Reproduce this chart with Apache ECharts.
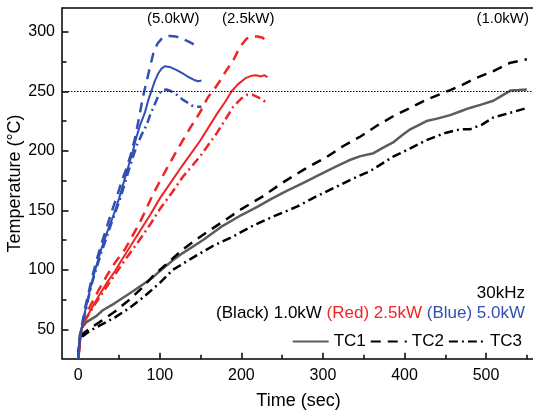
<!DOCTYPE html>
<html><head><meta charset="utf-8">
<script src="https://cdn.jsdelivr.net/npm/echarts@6/dist/echarts.min.js"></script>
<style>html,body{margin:0;padding:0;background:#fff}#c{width:533px;height:413px}</style>
</head><body><div id="c"></div>
<script>
// ---- data (time sec, temperature °C) ----
const k1_tc1 = [[0,25],[2,45],[4,51],[10,56],[22,61],[30,66],[45,72],[67,82],[80,88],[92,94],[100,99],[116,108],[128,114],[153,125],[175,136],[200,146],[220,153],[235,159],[255,166],[276,173],[296,180],[317,187],[332,192],[346,195.5],[362,198],[375,203],[386,207],[397,213],[407,218],[427,225],[440,227],[456,230],[468,233],[480,236],[495,239],[509,242],[521,247],[530,250.6],[540,251],[550,251.5]];
const k1_tc2 = [[0,30],[2,42],[5,46],[15,51],[26,56],[45,65],[63,75],[80,86],[92,95],[110,106],[128,117],[150,128],[174,139],[200,151],[227,162],[250,173],[276,184],[305,195],[325,204],[346,212],[366,221],[386,229],[407,236],[427,243],[445,248],[456,251],[470,255],[484,260],[509,267],[530,274],[550,277]];
const k1_tc3 = [[0,28],[2,40],[5,44],[15,49],[26,53],[45,60],[63,68],[80,77],[100,89],[116,100],[140,110],[165,120],[190,128],[214,137],[240,145],[268,153],[290,161],[317,170],[338,177],[358,183],[386,195],[407,202],[427,209],[450,215],[468,218],[480,218],[495,222],[509,228],[530,232],[550,236]];
const k25_tc1 = [[0,25],[2,40],[4,50],[8,57],[15,66],[25,78],[35,89],[45,99],[53,108],[65,121],[75,132],[88,146],[100,160],[116,176],[128,188],[149,208],[170,231],[180,241],[188,250],[196,256],[205,261],[212,263],[218,263.5],[224,262.5],[228,263.5],[232,262]];
const k25_tc2 = [[0,25],[2,42],[4,51],[8,60],[15,70],[25,83],[35,95],[45,106],[57,117],[75,139],[92,164],[110,187],[124,204],[137,219],[149,232],[159,245],[166,251],[174,259],[182,268],[190,276],[198,287],[206,294],[212,296],[220,296],[226,295],[231,292]];
const k25_tc3 = [[0,25],[3,47],[8,57],[15,65],[25,76],[35,86],[45,96],[57,108],[75,125],[88,138],[100,151],[115,165],[128,178],[149,195],[170,215],[190,237],[200,244],[207,247],[214,247],[220,245],[226,243],[231,240]];
const k5_tc1 = [[0,25],[1,35],[2,43],[4,50],[8,64],[12,76],[16,88],[22,103],[28,117],[35,131],[42.7,145],[50,160],[55,172],[61,186],[67,200],[71,211],[76,222],[81.6,232],[86,243],[90,251],[94,259],[98,265],[102,269],[106,271],[112,270.5],[120,268],[128,265],[135,262],[142,259.5],[147,258.5],[151,259]];
const k5_tc2 = [[0,25],[1,37],[2,45],[4,52],[8,67],[12,79],[16,91],[22,107],[28,121],[35,136],[41,149],[48,163],[54,176],[59,185],[64,196],[69,209],[74,226],[79.5,246],[85,262],[92,282],[97,290],[102,294],[106,296],[112,296.5],[120,296],[128,294],[136,291.5],[143,289]];
const k5_tc3 = [[0,25],[1,35],[2,42],[4,49],[8,63],[12,75],[16,87],[22,101],[28,114],[35,128],[42,142],[50,157],[56,170],[62,184],[67,195],[72,205],[78,214],[84,222],[88,230],[93,238],[98,246],[102,250.5],[108,251.5],[114,250],[121,247],[128,243],[135,240],[139,238],[145,237],[151,237]];
const xRange = [-20, 560];
const yRange = [25, 320];
const xMajor = [0,100,200,300,400,500];
const xMinor = [50,150,250,350,450,550];
const yMajor = [50,100,150,200,250,300];
const yMinor = [75,125,175,225,275];
const refLine = 250;
const legendNames = ['TC1','TC2','TC3'];

const FONT = 'Liberation Sans, Arial, sans-serif';
const BLUE = '#3050b4', RED = '#f02424', GRAY = '#5c5c5c', BLACK = '#000';
const DASH = [10, 7], DASHDOT = [9, 4, 2, 4];

function ser(name, data, color, type, width) {
  return { name, type: 'line', data, symbol: 'none', smooth: false, animation: false,
    xAxisIndex: 0, yAxisIndex: 0,
    lineStyle: { color, width, type }, itemStyle: { color }, z: 3 };
}

const series = [
  ser('k1_tc1', k1_tc1, GRAY, 'solid', 2.5),
  ser('k1_tc2', k1_tc2, BLACK, DASH, 2.5),
  ser('k1_tc3', k1_tc3, BLACK, DASHDOT, 2.5),
  ser('k25_tc1', k25_tc1, RED, 'solid', 2),
  ser('k25_tc2', k25_tc2, RED, DASH, 2.5),
  ser('k25_tc3', k25_tc3, RED, DASHDOT, 2.5),
  ser('k5_tc1', k5_tc1, BLUE, 'solid', 2),
  ser('k5_tc2', k5_tc2, BLUE, DASH, 2.5),
  ser('k5_tc3', k5_tc3, BLUE, DASHDOT, 2.5),
  ser(legendNames[0], [], GRAY, 'solid', 2.5),
  ser(legendNames[1], [], BLACK, DASH, 2.5),
  ser(legendNames[2], [], BLACK, DASHDOT, 2.5)
];
series[0].markLine = { silent: true, symbol: 'none', animation: false, label: { show: false },
  lineStyle: { color: '#000', width: 1, type: [1.5, 1.5] }, data: [{ yAxis: refLine }] };

const chart = echarts.init(document.getElementById('c'), null, { renderer: 'canvas' });
const gridRect = { left: 62, right: -2, top: 8, bottom: 54, containLabel: false, outerBoundsMode: 'none' };
const grids = [Object.assign({ show: true, borderColor: '#000', borderWidth: 1.5 }, gridRect)];
for (let i = 1; i <= 4; i++) grids.push(Object.assign({ show: false }, gridRect));

// helper axis whose zero sits just inside the frame edge (used to anchor tick-only axes via onZero)
function anchorAxis(gridIndex) {
  return { type: 'value', gridIndex, min: -0.01, max: 10, axisLine: { show: false }, axisTick: { show: false },
    axisLabel: { show: false }, splitLine: { show: false } };
}
function tickAxis(gridIndex, range, values, len) {
  return { type: 'value', gridIndex, min: range[0], max: range[1], axisLine: { show: false },
    splitLine: { show: false },
    axisTick: { show: true, inside: true, length: len, customValues: values, lineStyle: { color: '#000', width: 1.5 } },
    axisLabel: { show: false } };
}

chart.setOption({
  animation: false,
  backgroundColor: '#fff',
  textStyle: { fontFamily: FONT },
  grid: grids,
  xAxis: [
    { type: 'value', gridIndex: 0, min: xRange[0], max: xRange[1], position: 'bottom',
      name: 'Time (sec)', nameLocation: 'middle', nameGap: 33, nameMoveOverlap: false,
      nameTextStyle: { fontSize: 18, color: '#000', fontFamily: FONT },
      axisLine: { show: false, onZero: false }, axisTick: { show: false }, splitLine: { show: false },
      axisLabel: { show: true, customValues: xMajor, margin: 9, fontSize: 16, color: '#000', fontFamily: FONT } },
    anchorAxis(1),
    anchorAxis(2),
    tickAxis(3, xRange, xMajor, 6),
    tickAxis(4, xRange, xMinor, 4)
  ],
  yAxis: [
    { type: 'value', gridIndex: 0, min: yRange[0], max: yRange[1], position: 'left',
      name: 'Temperature (°C)', nameLocation: 'middle', nameGap: 38, nameRotate: 90, nameMoveOverlap: false,
      nameTextStyle: { fontSize: 18, color: '#000', fontFamily: FONT },
      axisLine: { show: false, onZero: false }, axisTick: { show: false }, splitLine: { show: false },
      axisLabel: { show: true, customValues: yMajor, margin: 7, fontSize: 16, color: '#000', fontFamily: FONT } },
    tickAxis(1, yRange, yMajor, 6),
    tickAxis(2, yRange, yMinor, 4),
    anchorAxis(3),
    anchorAxis(4)
  ],
  legend: { data: legendNames, right: 6, top: 328, itemWidth: 36, itemHeight: 14, itemGap: 4,
    selectedMode: false, itemStyle: { opacity: 0 },
    textStyle: { fontSize: 17, color: '#000', fontFamily: FONT } },
  graphic: [
    { type: 'text', left: 147, top: 11, style: { text: '(5.0kW)', font: '15px ' + FONT, fill: '#000' } },
    { type: 'text', left: 222, top: 11, style: { text: '(2.5kW)', font: '15px ' + FONT, fill: '#000' } },
    { type: 'text', right: 4, top: 11, style: { text: '(1.0kW)', font: '15px ' + FONT, fill: '#000' } },
    { type: 'text', right: 8, top: 285, style: { text: '30kHz', font: '17px ' + FONT, fill: '#000' } },
    { type: 'text', right: 8, top: 305, style: { text: '{k|(Black) 1.0kW} {r|(Red) 2.5kW} {b|(Blue) 5.0kW}',
      font: '17px ' + FONT, fill: '#000',
      rich: { k: { fill: '#000', font: '17px ' + FONT }, r: { fill: RED, font: '17px ' + FONT }, b: { fill: BLUE, font: '17px ' + FONT } } } }
  ],
  series
});
</script></body></html>
